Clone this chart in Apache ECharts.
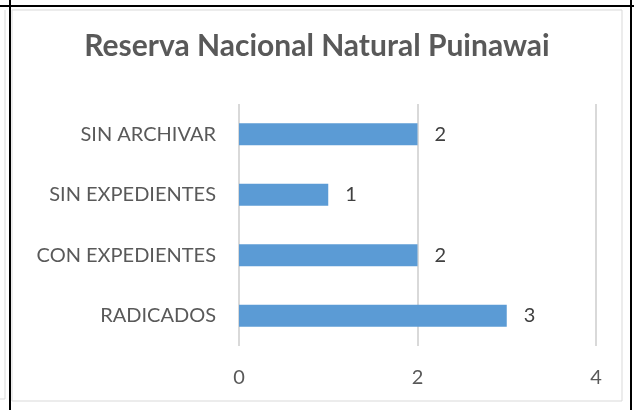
<!DOCTYPE html>
<html>
<head>
<meta charset="utf-8">
<script src="https://cdn.jsdelivr.net/npm/echarts@6/dist/echarts.min.js"></script>
<style>
  html, body { margin: 0; padding: 0; background: #fff; }
  #chart { width: 634px; height: 410px; }
</style>
</head>
<body>
<div id="chart"></div>
<script>
var categories = ['RADICADOS', 'CON EXPEDIENTES', 'SIN EXPEDIENTES', 'SIN ARCHIVAR'];
var values = [3, 2, 1, 2];
var xTicks = [0, 2, 4];

var myChart = echarts.init(document.getElementById('chart'));

var option = {
    backgroundColor: '#fff',
    animation: false,
    title: {
        text: 'Reserva Nacional Natural Puinawai',
        left: 'center',
        top: 26,
        textStyle: {
            fontFamily: 'Lato',
            fontWeight: 'bold',
            fontSize: 30,
            color: '#595959'
        }
    },
    graphic: [
        { type: 'rect', shape: { x: 12, y: 10, width: 610, height: 391 }, style: { fill: 'none', stroke: '#d9d9d9', lineWidth: 1 } },
        { type: 'line', shape: { x1: 5, y1: 10, x2: 5, y2: 399 }, style: { stroke: '#d9d9d9', lineWidth: 1 } },
        { type: 'line', shape: { x1: 0, y1: 399, x2: 5, y2: 399 }, style: { stroke: '#d9d9d9', lineWidth: 1 } },
        { type: 'line', shape: { x1: 0, y1: 6, x2: 634, y2: 6 }, style: { stroke: '#000', lineWidth: 2 } },
        { type: 'line', shape: { x1: 10, y1: 0, x2: 10, y2: 410 }, style: { stroke: '#000', lineWidth: 2 } },
        { type: 'line', shape: { x1: 631, y1: 0, x2: 631, y2: 410 }, style: { stroke: '#000', lineWidth: 2 } }
    ],
    grid: {
        left: 239,
        right: 38,
        top: 104,
        bottom: 64
    },
    xAxis: {
        type: 'value',
        min: 0,
        max: 4,
        interval: 2,
        axisLine: { show: false },
        axisTick: { show: false },
        splitLine: { lineStyle: { color: '#d9d9d9', width: 2 } },
        axisLabel: {
            margin: 22,
            fontFamily: 'Lato',
            fontSize: 20,
            color: '#595959',
            formatter: function (v) { return xTicks.indexOf(v) >= 0 ? String(v) : ''; }
        }
    },
    yAxis: {
        type: 'category',
        data: categories,
        axisLine: { show: false },
        axisTick: { show: false },
        axisLabel: {
            margin: 23,
            fontFamily: 'Lato',
            fontSize: 20,
            color: '#595959'
        }
    },
    series: [{
        type: 'bar',
        data: values,
        barWidth: 22,
        itemStyle: { color: '#5b9bd5' },
        label: {
            show: true,
            position: 'right',
            distance: 17,
            fontFamily: 'Lato',
            fontSize: 20,
            color: '#404040'
        }
    }]
};

myChart.setOption(option);
</script>
</body>
</html>
